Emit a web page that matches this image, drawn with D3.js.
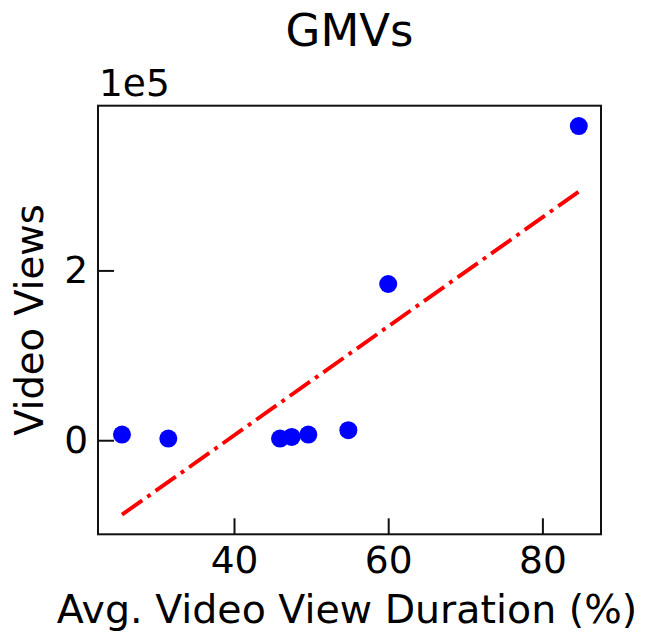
<!DOCTYPE html>
<html>
<head>
<meta charset="utf-8">
<script src="https://cdn.jsdelivr.net/npm/d3@7"></script>
<style>
  html, body { margin: 0; padding: 0; background: #fff; }
  svg { display: block; font-family: "DejaVu Sans", sans-serif; }
</style>
</head>
<body>
<svg id="chart" width="649" height="634"></svg>
<script>
// Avg. view duration (%) vs. video views, one point per video
const durations = [25.47, 31.48, 45.97, 47.48, 49.64, 54.83, 60.0, 84.72];
const views = [6700, 2000, 2000, 3900, 6700, 11800, 184000, 370000];

// Least-squares trend line, evaluated at the smallest and largest duration
const trendX = [25.47, 84.72];
const trendY = [-87700, 292800];

const xTicks = [40, 60, 80];
const xTickLabels = ["40", "60", "80"];
const yTicks = [0, 200000];
const yTickLabels = ["0", "2"];

const xDomain = [22.36, 87.6];
const yDomain = [-110800, 394000];

const svg = d3.select("#chart");
const plot = { left: 98, right: 601, top: 105.7, bottom: 534.3 };

const x = d3.scaleLinear().domain(xDomain).range([plot.left, plot.right]);
const y = d3.scaleLinear().domain(yDomain).range([plot.bottom, plot.top]);

// Trend line (dash-dot)
svg.append("path")
  .datum(trendX.map((d, i) => [d, trendY[i]]))
  .attr("d", d3.line().x(d => x(d[0])).y(d => y(d[1])))
  .attr("fill", "none")
  .attr("stroke", "red")
  .attr("stroke-width", 3.9)
  .attr("stroke-linecap", "butt")
  .attr("stroke-dasharray", "24.8,6.2,3.9,6.2");

// Points
svg.append("g")
  .selectAll("circle")
  .data(durations.map((d, i) => [d, views[i]]))
  .join("circle")
  .attr("cx", d => x(d[0]))
  .attr("cy", d => y(d[1]))
  .attr("r", 9)
  .attr("fill", "blue");

// Axes with inward ticks
const xAxis = svg.append("g")
  .attr("transform", `translate(0,${plot.bottom})`)
  .call(d3.axisBottom(x).tickValues(xTicks)
    .tickFormat((d, i) => xTickLabels[i])
    .tickSizeInner(-16).tickSizeOuter(0).tickPadding(12));

const yAxis = svg.append("g")
  .attr("transform", `translate(${plot.left},0)`)
  .call(d3.axisLeft(y).tickValues(yTicks)
    .tickFormat((d, i) => yTickLabels[i])
    .tickSizeInner(-16).tickSizeOuter(0).tickPadding(10));

[xAxis, yAxis].forEach(g => {
  g.select(".domain").remove();
  g.selectAll("line").attr("stroke", "#111").attr("stroke-width", 2);
  g.selectAll("text")
    .attr("font-family", "DejaVu Sans, sans-serif")
    .attr("font-size", 37.5)
    .attr("fill", "#000");
});

// Frame
svg.append("rect")
  .attr("x", plot.left).attr("y", plot.top)
  .attr("width", plot.right - plot.left).attr("height", plot.bottom - plot.top)
  .attr("fill", "none")
  .attr("stroke", "#111")
  .attr("stroke-width", 2);

// Offset (scale) label
svg.append("text")
  .attr("x", plot.left + 1).attr("y", 96)
  .attr("font-size", 37.5)
  .text("1e5");

// Title
svg.append("text")
  .attr("x", (plot.left + plot.right) / 2).attr("y", 46)
  .attr("text-anchor", "middle")
  .attr("font-size", 45)
  .text("GMVs");

// Axis labels
svg.append("text")
  .attr("x", 347).attr("y", 623)
  .attr("text-anchor", "middle")
  .attr("font-size", 39.5)
  .text("Avg. Video View Duration (%)");

svg.append("text")
  .attr("transform", `translate(43,${(plot.top + plot.bottom) / 2}) rotate(-90)`)
  .attr("text-anchor", "middle")
  .attr("font-size", 38.5)
  .text("Video Views");
</script>
</body>
</html>
